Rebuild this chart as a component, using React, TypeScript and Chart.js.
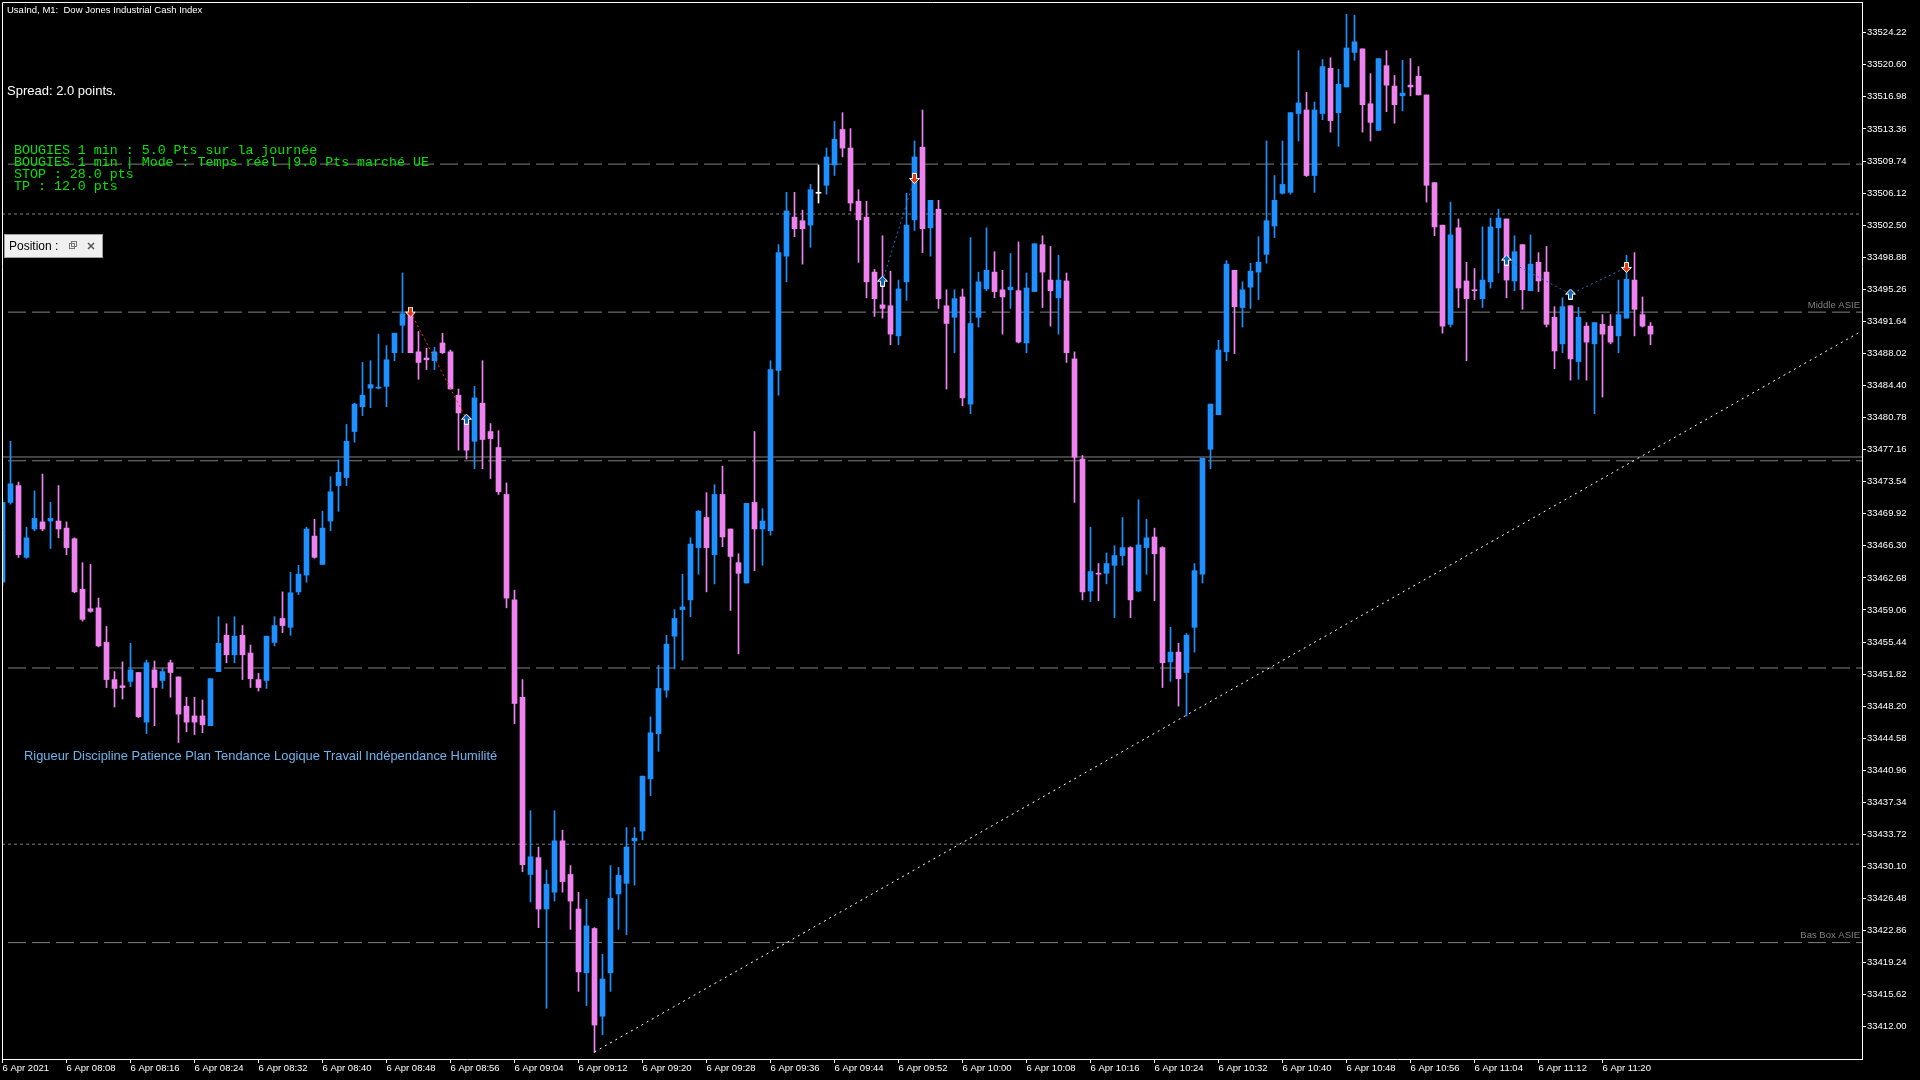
import { useEffect, useRef } from 'react';
import { Chart, registerables } from 'chart.js';

Chart.register(...registerables);

// M1 candles, 6 Apr 2021 08:00 -> 11:26
const opens = [
  33462.2, 33471.2, 33473.1, 33465.0, 33468.2, 33469.0, 33469.1, 33469.1, 33468.3, 33467.1,
  33461.4, 33459.2, 33459.3, 33455.4, 33451.2, 33450.5, 33451.0, 33452.0, 33446.4, 33452.3,
  33451.1, 33453.1, 33451.5, 33448.2, 33447.1, 33447.1, 33446.0, 33452.1, 33456.2, 33454.0,
  33456.2, 33454.2, 33451.2, 33451.1, 33455.4, 33458.1, 33457.1, 33461.1, 33463.0, 33467.4,
  33464.2, 33469.1, 33473.1, 33474.0, 33479.2, 33482.0, 33484.1, 33484.1, 33484.3, 33488.1,
  33491.2, 33492.6, 33488.2, 33487.5, 33487.2, 33489.2, 33488.2, 33483.3, 33480.4, 33478.1,
  33482.4, 33479.2, 33477.4, 33472.1, 33460.2, 33449.2, 33429.2, 33431.1, 33425.3, 33427.2,
  33433.0, 33429.2, 33425.3, 33418.1, 33423.1, 33413.2, 33418.1, 33427.0, 33428.2, 33433.0,
  33434.1, 33440.0, 33445.1, 33450.0, 33456.1, 33459.1, 33460.2, 33466.1, 33469.5, 33465.3,
  33472.1, 33468.2, 33464.4, 33462.1, 33471.2, 33468.2, 33468.0, 33486.1, 33499.0, 33503.4,
  33503.0, 33502.5, 33506.1, 33507.0, 33509.3, 33513.3, 33511.2, 33505.2, 33503.4, 33497.2,
  33493.5, 33493.4, 33490.0, 33496.1, 33503.1, 33511.3, 33502.2, 33504.3, 33493.4, 33492.1,
  33494.4, 33482.3, 33492.1, 33495.3, 33497.2, 33495.2, 33495.2, 33495.1, 33489.2, 33495.0,
  33500.3, 33496.3, 33494.3, 33496.2, 33487.4, 33476.1, 33461.2, 33463.2, 33463.2, 33464.1,
  33465.2, 33466.1, 33461.2, 33466.1, 33467.3, 33466.1, 33453.2, 33454.3, 33452.0, 33457.1,
  33463.1, 33477.2, 33481.1, 33488.2, 33497.4, 33493.2, 33495.5, 33497.2, 33499.2, 33502.4,
  33506.1, 33506.2, 33515.1, 33515.5, 33508.1, 33515.1, 33520.2, 33515.2, 33518.1, 33522.0,
  33522.4, 33516.2, 33513.2, 33520.5, 33518.2, 33517.1, 33518.3, 33519.3, 33517.2, 33507.3,
  33502.5, 33491.3, 33502.2, 33496.2, 33495.2, 33494.2, 33496.1, 33502.2, 33503.2, 33496.2,
  33500.3, 33495.1, 33498.3, 33497.2, 33492.1, 33489.1, 33493.4, 33487.1, 33491.1, 33489.1,
  33491.3, 33491.1, 33490.0, 33492.0, 33496.3, 33492.4, 33491.1,
];
const highs = [
  33471.5, 33478.1, 33473.5, 33468.4, 33472.5, 33474.4, 33471.2, 33473.1, 33469.0, 33467.2,
  33464.4, 33464.2, 33460.4, 33457.2, 33452.1, 33453.2, 33455.3, 33452.0, 33453.4, 33453.3,
  33452.5, 33453.4, 33451.5, 33449.2, 33449.2, 33448.9, 33451.3, 33458.3, 33457.5, 33458.3,
  33457.3, 33455.1, 33451.9, 33456.1, 33458.3, 33461.1, 33463.3, 33464.1, 33468.4, 33469.3,
  33470.2, 33474.1, 33476.0, 33480.0, 33482.4, 33487.0, 33487.2, 33490.2, 33488.9, 33490.3,
  33497.1, 33493.1, 33490.5, 33488.6, 33488.7, 33490.3, 33488.4, 33484.0, 33481.0, 33484.3,
  33487.2, 33480.1, 33479.3, 33473.4, 33461.3, 33451.2, 33436.4, 33432.3, 33429.7, 33436.4,
  33434.2, 33430.2, 33427.2, 33426.4, 33423.2, 33420.2, 33430.2, 33430.0, 33434.5, 33434.5,
  33440.3, 33447.0, 33452.8, 33456.2, 33459.1, 33463.1, 33467.2, 33470.3, 33472.3, 33473.2,
  33475.3, 33468.2, 33465.4, 33471.1, 33479.2, 33470.5, 33487.2, 33500.3, 33506.2, 33506.2,
  33504.2, 33507.1, 33509.3, 33511.2, 33514.2, 33515.2, 33513.4, 33506.5, 33505.2, 33497.5,
  33501.3, 33497.3, 33496.3, 33506.1, 33512.0, 33515.5, 33505.3, 33505.3, 33495.2, 33495.2,
  33495.3, 33501.1, 33497.2, 33502.2, 33499.5, 33497.4, 33499.3, 33500.6, 33497.1, 33500.4,
  33501.3, 33500.1, 33499.1, 33497.1, 33488.2, 33476.5, 33468.4, 33464.3, 33465.5, 33466.3,
  33469.5, 33466.2, 33471.5, 33469.3, 33468.3, 33466.2, 33457.1, 33455.3, 33456.4, 33464.3,
  33476.2, 33482.3, 33489.5, 33498.5, 33497.4, 33496.1, 33498.2, 33501.2, 33512.0, 33508.1,
  33512.0, 33515.2, 33522.2, 33517.5, 33516.4, 33521.2, 33521.4, 33520.1, 33526.3, 33526.2,
  33522.4, 33519.6, 33521.3, 33522.2, 33519.4, 33521.1, 33521.3, 33520.4, 33517.2, 33507.3,
  33502.5, 33505.1, 33503.2, 33498.3, 33497.6, 33502.3, 33503.3, 33504.3, 33503.2, 33501.3,
  33500.3, 33501.4, 33499.4, 33500.1, 33493.3, 33494.3, 33493.4, 33493.2, 33491.5, 33491.5,
  33492.4, 33492.4, 33496.3, 33499.1, 33499.4, 33494.4, 33491.5,
];
const lows = [
  33461.9, 33471.0, 33465.0, 33464.9, 33468.0, 33468.0, 33466.0, 33467.2, 33465.3, 33461.0,
  33457.8, 33458.8, 33454.9, 33450.3, 33448.1, 33449.0, 33450.4, 33446.9, 33445.1, 33446.0,
  33450.2, 33449.2, 33444.1, 33445.3, 33445.0, 33445.2, 33446.0, 33452.1, 33453.1, 33453.1,
  33451.2, 33450.3, 33449.9, 33450.2, 33455.0, 33456.5, 33456.2, 33460.8, 33462.2, 33464.9,
  33464.2, 33468.0, 33470.2, 33473.1, 33478.0, 33481.0, 33481.9, 33484.0, 33482.0, 33487.2,
  33488.1, 33488.1, 33485.1, 33486.2, 33486.2, 33488.0, 33484.0, 33477.1, 33476.1, 33475.0,
  33475.0, 33473.9, 33472.1, 33459.3, 33446.2, 33429.5, 33426.1, 33423.2, 33414.1, 33426.2,
  33427.2, 33423.0, 33416.0, 33414.4, 33409.1, 33411.1, 33416.0, 33423.0, 33422.4, 33428.0,
  33433.1, 33438.1, 33443.1, 33449.2, 33452.4, 33453.4, 33458.3, 33463.1, 33461.1, 33462.0,
  33466.2, 33459.0, 33454.1, 33462.1, 33463.5, 33464.1, 33467.5, 33483.3, 33496.1, 33501.2,
  33498.1, 33500.0, 33505.0, 33506.0, 33508.1, 33510.2, 33504.1, 33498.3, 33494.3, 33492.2,
  33492.0, 33489.0, 33489.0, 33494.0, 33501.9, 33499.4, 33499.0, 33493.1, 33484.0, 33488.1,
  33482.1, 33481.2, 33491.0, 33495.1, 33494.3, 33490.2, 33493.1, 33489.2, 33488.1, 33495.0,
  33493.2, 33491.1, 33490.2, 33487.0, 33471.2, 33460.2, 33460.0, 33460.1, 33462.0, 33458.2,
  33464.1, 33458.2, 33461.1, 33463.1, 33460.1, 33450.3, 33451.0, 33448.2, 33447.1, 33454.3,
  33462.1, 33475.0, 33481.1, 33487.2, 33488.0, 33491.0, 33493.1, 33494.1, 33498.2, 33501.1,
  33506.0, 33506.0, 33512.0, 33508.0, 33506.2, 33514.4, 33513.0, 33511.4, 33518.1, 33521.1,
  33513.0, 33512.0, 33513.2, 33515.3, 33514.0, 33515.4, 33517.1, 33517.2, 33505.1, 33501.3,
  33490.3, 33491.0, 33493.2, 33487.2, 33494.1, 33493.2, 33495.4, 33497.1, 33494.3, 33495.1,
  33493.0, 33495.1, 33495.0, 33491.0, 33486.3, 33488.1, 33485.0, 33485.1, 33485.0, 33481.2,
  33483.1, 33489.1, 33488.1, 33492.0, 33490.0, 33491.0, 33489.0,
];
const closes = [
  33471.2, 33473.3, 33465.3, 33467.2, 33469.4, 33468.2, 33469.4, 33468.2, 33466.1, 33461.1,
  33458.0, 33458.9, 33455.0, 33451.2, 33450.2, 33450.3, 33452.3, 33447.0, 33453.1, 33450.3,
  33452.1, 33452.0, 33447.3, 33446.4, 33446.4, 33446.1, 33451.3, 33455.3, 33454.0, 33456.1,
  33454.0, 33451.3, 33450.3, 33456.1, 33457.3, 33457.3, 33461.0, 33463.1, 33468.2, 33465.0,
  33468.3, 33472.4, 33474.6, 33478.1, 33482.3, 33483.3, 33484.5, 33484.2, 33487.3, 33490.3,
  33492.5, 33488.1, 33487.0, 33487.3, 33488.2, 33488.1, 33484.0, 33481.3, 33477.1, 33483.0,
  33478.3, 33478.4, 33472.4, 33460.4, 33448.5, 33430.3, 33431.2, 33425.3, 33428.1, 33433.0,
  33428.4, 33426.2, 33418.2, 33423.4, 33412.2, 33417.4, 33426.5, 33429.1, 33432.3, 33433.3,
  33440.3, 33445.2, 33450.2, 33455.2, 33458.1, 33459.4, 33466.5, 33470.2, 33466.1, 33472.1,
  33467.3, 33465.1, 33463.2, 33471.1, 33468.2, 33469.1, 33486.2, 33499.4, 33504.1, 33502.1,
  33502.1, 33506.5, 33506.1, 33510.2, 33512.2, 33511.2, 33505.0, 33503.1, 33496.1, 33494.2,
  33493.1, 33490.2, 33495.3, 33502.5, 33510.2, 33502.1, 33505.3, 33494.2, 33491.4, 33494.2,
  33483.0, 33491.4, 33496.1, 33497.4, 33495.0, 33494.4, 33495.5, 33489.3, 33495.4, 33500.4,
  33497.2, 33495.1, 33496.3, 33488.1, 33476.3, 33461.1, 33463.4, 33463.1, 33464.3, 33465.2,
  33466.1, 33460.2, 33466.4, 33467.2, 33465.4, 33453.1, 33454.3, 33451.3, 33456.2, 33463.5,
  33476.2, 33482.3, 33488.4, 33498.1, 33493.3, 33495.2, 33497.3, 33498.3, 33503.0, 33505.3,
  33507.1, 33515.2, 33516.3, 33508.1, 33515.5, 33520.4, 33514.3, 33518.4, 33522.5, 33523.2,
  33516.1, 33514.1, 33521.3, 33518.3, 33516.1, 33517.4, 33518.1, 33517.2, 33507.0, 33502.3,
  33491.1, 33501.4, 33495.4, 33494.2, 33495.1, 33496.3, 33502.3, 33503.3, 33496.3, 33499.5,
  33495.2, 33498.1, 33496.2, 33491.3, 33488.3, 33493.3, 33487.4, 33492.1, 33489.3, 33491.5,
  33490.2, 33489.3, 33492.4, 33496.4, 33493.0, 33491.1, 33490.2,
];

// one label every 8 bars
const xTickLabels = [
  '6 Apr 2021', '6 Apr 08:08', '6 Apr 08:16', '6 Apr 08:24', '6 Apr 08:32', '6 Apr 08:40',
  '6 Apr 08:48', '6 Apr 08:56', '6 Apr 09:04', '6 Apr 09:12', '6 Apr 09:20', '6 Apr 09:28',
  '6 Apr 09:36', '6 Apr 09:44', '6 Apr 09:52', '6 Apr 10:00', '6 Apr 10:08', '6 Apr 10:16',
  '6 Apr 10:24', '6 Apr 10:32', '6 Apr 10:40', '6 Apr 10:48', '6 Apr 10:56', '6 Apr 11:04',
  '6 Apr 11:12', '6 Apr 11:20',
];
const TICK_STEP = 8;

const yTickValues = [
  33412.0, 33415.62, 33419.24, 33422.86, 33426.48, 33430.1, 33433.72, 33437.34,
  33440.96, 33444.58, 33448.2, 33451.82, 33455.44, 33459.06, 33462.68, 33466.3,
  33469.92, 33473.54, 33477.16, 33480.78, 33484.4, 33488.02, 33491.64, 33495.26,
  33498.88, 33502.5, 33506.12, 33509.74, 33513.36, 33516.98, 33520.6, 33524.22,
];

// horizontal objects
const dashedLevels = [33509.39, 33492.68, 33475.9, 33452.51, 33421.51];
const dottedLevels = [33503.76, 33432.62];
const solidLevels = [33476.33];
const levelLabels = ['Middle ASIE', 'Bas Box ASIE'];
const levelLabelPrices = [33492.68, 33421.51];

// trend line
const trendIdx = [74, 232.4];
const trendPrice = [33409.17, 33490.55];

// trade arrows
const buyIdx = [58, 110, 188, 196];
const buyPrice = [33480.6, 33496.18, 33498.56, 33494.72];
const sellIdx = [51, 114, 203];
const sellPrice = [33492.69, 33507.77, 33497.74];
const redTradeIdx = [51, 58];
const redTradePrice = [33492.69, 33480.6];
const blueTradeAIdx = [110, 114];
const blueTradeAPrice = [33496.18, 33507.77];
const blueTradeBIdx = [188, 196, 203];
const blueTradeBPrice = [33498.56, 33494.72, 33497.74];

const infoLines = [
  'BOUGIES 1 min : 5.0 Pts sur la journée',
  'BOUGIES 1 min | Mode : Temps réel |9.0 Pts marché UE',
  'STOP : 28.0 pts',
  'TP : 12.0 pts',
];
const motto = 'Rigueur Discipline Patience Plan Tendance Logique Travail Indépendance Humilité';

const X_MIN = -0.0625;
const X_MAX = 232.4375;
const Y_MIN = 33408.37;
const Y_MAX = 33527.69;

const BULL = '#1e90ff';
const BEAR = '#ee82ee';
const DOJI = '#ffffff';
const LEVEL = '#808080';
const SANS = '"Liberation Sans", Arial, sans-serif';

const candleColor = (i: number) =>
  closes[i] > opens[i] ? BULL : closes[i] < opens[i] ? BEAR : DOJI;

const pts = (xs: number[], ys: number[]) => xs.map((x, k) => ({ x, y: ys[k] }));

function arrowImage(fill: string, up: boolean) {
  const c = document.createElement('canvas');
  c.width = 11;
  c.height = 11;
  const g = c.getContext('2d')!;
  const p = up
    ? [[5.5, 0.5], [10.5, 5.5], [7.5, 5.5], [7.5, 10.5], [3.5, 10.5], [3.5, 5.5], [0.5, 5.5]]
    : [[5.5, 10.5], [10.5, 5.5], [7.5, 5.5], [7.5, 0.5], [3.5, 0.5], [3.5, 5.5], [0.5, 5.5]];
  g.beginPath();
  p.forEach(([x, y], k) => (k ? g.lineTo(x, y) : g.moveTo(x, y)));
  g.closePath();
  g.fillStyle = fill;
  g.fill();
  g.strokeStyle = '#fff';
  g.lineWidth = 1;
  g.stroke();
  return c;
}

// keep chart.js from reserving room for half tick labels at the edges
const noEdgePadding = (s: any) => {
  s.paddingTop = 0;
  s.paddingBottom = 0;
  s.paddingLeft = 0;
  s.paddingRight = 0;
};

const overlay = {
  id: 'mt4Overlay',
  beforeDraw(chart: any) {
    const { ctx, width, height } = chart;
    ctx.save();
    ctx.fillStyle = '#000';
    ctx.fillRect(0, 0, width, height);
    ctx.restore();
  },
  afterDraw(chart: any) {
    const { ctx, chartArea: a, scales } = chart;
    const y = scales.y;
    ctx.save();

    // frame left + top
    ctx.strokeStyle = '#fff';
    ctx.lineWidth = 1;
    ctx.beginPath();
    ctx.moveTo(a.left + 0.5, a.bottom);
    ctx.lineTo(a.left + 0.5, a.top + 0.5);
    ctx.lineTo(a.right, a.top + 0.5);
    ctx.stroke();

    ctx.textBaseline = 'middle';
    ctx.textAlign = 'left';

    ctx.fillStyle = '#fff';
    ctx.font = `9.5px ${SANS}`;
    ctx.fillText('UsaInd, M1:  Dow Jones Industrial Cash Index', 7, 10);

    ctx.font = `13px ${SANS}`;
    ctx.fillText('Spread: 2.0 points.', 7, 91);

    ctx.fillStyle = '#00e600';
    ctx.font = '13.3px "Liberation Mono", "Courier New", monospace';
    infoLines.forEach((t, k) => ctx.fillText(t, 14, 150 + k * 12));

    // Position panel
    ctx.fillStyle = '#f0f0f0';
    ctx.fillRect(4, 234, 99, 24);
    ctx.strokeStyle = '#a0a0a0';
    ctx.strokeRect(4.5, 234.5, 98, 23);
    ctx.fillStyle = '#000';
    ctx.font = `12px ${SANS}`;
    ctx.fillText('Position :', 9, 246.5);
    ctx.strokeStyle = '#777';
    ctx.strokeRect(69.5, 243.5, 5, 5);
    ctx.strokeRect(71.5, 241.5, 5, 5);
    ctx.strokeStyle = '#555';
    ctx.lineWidth = 1.5;
    ctx.beginPath();
    ctx.moveTo(88, 243);
    ctx.lineTo(94, 249);
    ctx.moveTo(94, 243);
    ctx.lineTo(88, 249);
    ctx.stroke();

    ctx.fillStyle = '#6cb4ee';
    ctx.font = `12.9px ${SANS}`;
    ctx.fillText(motto, 24, 756);

    ctx.fillStyle = LEVEL;
    ctx.font = `9.5px ${SANS}`;
    ctx.textAlign = 'right';
    ctx.textBaseline = 'bottom';
    levelLabels.forEach((t, k) => ctx.fillText(t, a.right - 2, y.getPixelForValue(levelLabelPrices[k]) - 2));

    ctx.restore();
  },
};

const App: React.FC = () => {
  const chartRef = useRef<HTMLCanvasElement | null>(null);

  useEffect(() => {
    const ctx = chartRef.current?.getContext('2d');
    if (!ctx) return;

    const levelLine = (v: number, dash: number[], offset: number) => ({
      type: 'line' as const,
      data: [{ x: X_MIN, y: v }, { x: X_MAX, y: v }],
      borderColor: LEVEL,
      borderWidth: 1,
      borderDash: dash,
      borderDashOffset: offset,
      pointRadius: 0,
      pointHoverRadius: 0,
      order: 10,
    });

    const tradeLine = (xs: number[], ys: number[], color: string) => ({
      type: 'line' as const,
      data: pts(xs, ys),
      borderColor: color,
      borderWidth: 1,
      borderDash: [2, 3],
      pointRadius: 0,
      pointHoverRadius: 0,
      order: 2,
    });

    const datasets: any[] = [
      ...dashedLevels.map((v) => levelLine(v, [18, 6], 18)),
      ...dottedLevels.map((v) => levelLine(v, [3, 3], 0)),
      ...solidLevels.map((v) => levelLine(v, [], 0)),
      {
        type: 'bar',
        data: opens.map((_, i) => ({ x: i, y: [lows[i], highs[i]] })),
        backgroundColor: (c: any) => candleColor(c.dataIndex),
        barThickness: 1,
        grouped: false,
        minBarLength: 1,
        order: 5,
      },
      {
        type: 'bar',
        data: opens.map((o, i) => ({ x: i, y: [o, closes[i]] })),
        backgroundColor: (c: any) => candleColor(c.dataIndex),
        barThickness: 5,
        grouped: false,
        minBarLength: 1,
        order: 4,
      },
      {
        type: 'line',
        data: pts(trendIdx, trendPrice),
        borderColor: '#ffffff',
        borderWidth: 1,
        borderDash: [2, 4],
        pointRadius: 0,
        pointHoverRadius: 0,
        order: 3,
      },
      tradeLine(redTradeIdx, redTradePrice, '#ff3a10'),
      tradeLine(blueTradeAIdx, blueTradeAPrice, '#1e6fd0'),
      tradeLine(blueTradeBIdx, blueTradeBPrice, '#1e6fd0'),
      {
        type: 'line',
        data: pts(buyIdx, buyPrice),
        showLine: false,
        pointStyle: arrowImage('#1565c0', true),
        pointRadius: 5,
        order: 1,
      },
      {
        type: 'line',
        data: pts(sellIdx, sellPrice),
        showLine: false,
        pointStyle: arrowImage('#e8380d', false),
        pointRadius: 5,
        order: 1,
      },
    ];

    const tickFont = { family: SANS, size: 9.5 };

    const chart = new Chart(ctx, {
      type: 'bar',
      data: { datasets },
      options: {
        responsive: true,
        maintainAspectRatio: false,
        animation: false,
        events: [],
        layout: { autoPadding: false, padding: { left: 2, top: 2, right: 0, bottom: 0 } },
        plugins: { legend: { display: false }, tooltip: { enabled: false } },
        scales: {
          x: {
            type: 'linear',
            min: X_MIN,
            max: X_MAX,
            offset: false,
            afterBuildTicks: (s: any) => {
              s.ticks = xTickLabels.map((_, k) => ({ value: k * TICK_STEP }));
            },
            afterFit: (s: any) => {
              s.height = 21;
              noEdgePadding(s);
            },
            grid: {
              offset: false,
              drawOnChartArea: false,
              drawTicks: true,
              tickLength: 4,
              color: '#fff',
              tickColor: '#fff',
            },
            border: { display: true, color: '#fff', width: 1 },
            ticks: {
              autoSkip: false,
              maxRotation: 0,
              minRotation: 0,
              align: 'start',
              padding: 0,
              color: '#fff',
              font: tickFont,
              callback: (v: any) => xTickLabels[Math.round(Number(v) / TICK_STEP)] ?? '',
            },
          },
          y: {
            type: 'linear',
            position: 'right',
            min: Y_MIN,
            max: Y_MAX,
            afterBuildTicks: (s: any) => {
              s.ticks = yTickValues.map((v) => ({ value: v }));
            },
            afterFit: (s: any) => {
              s.width = 58;
              noEdgePadding(s);
            },
            grid: {
              drawOnChartArea: false,
              drawTicks: true,
              tickLength: 4,
              color: '#fff',
              tickColor: '#fff',
            },
            border: { display: true, color: '#fff', width: 1 },
            ticks: {
              autoSkip: false,
              padding: 1,
              color: '#fff',
              font: tickFont,
              callback: (v: any) => Number(v).toFixed(2),
            },
          },
        },
      } as any,
      plugins: [overlay],
    });

    return () => {
      chart.destroy();
    };
  }, []);

  return (
    <div style={{ position: 'fixed', left: 0, top: 0, width: 1920, height: 1080, background: '#000' }}>
      <canvas ref={chartRef} style={{ width: '100%', height: '100%' }}></canvas>
    </div>
  );
};

export default App;
